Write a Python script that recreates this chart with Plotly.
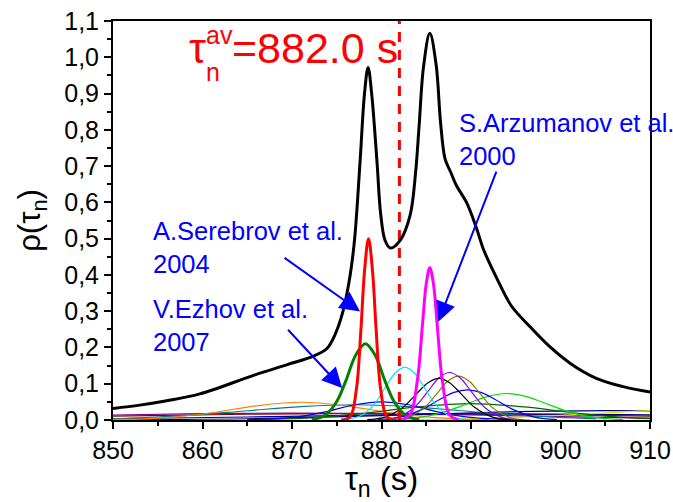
import plotly.graph_objects as go

FONT = "Liberation Sans, Arial, sans-serif"

# ---- data ----
black_x = [850, 853, 856, 859.7, 865.7, 869.4, 872.4, 873.9, 874.8, 875.7, 876.5, 877.0, 877.6, 878.1, 878.5,
           878.9, 879.5, 879.9, 880.4, 881.0, 882.1, 883.2, 883.8, 884.2, 884.7, 885.4, 886.1, 886.6, 887.1,
           887.7, 888.4, 889.5, 890.6, 891.4, 892.9, 894.5, 896.6, 898.8, 901.1, 904.0, 907.0, 910]
black_y = [0.032, 0.041, 0.053, 0.072, 0.123, 0.152, 0.176, 0.197, 0.235, 0.30, 0.40, 0.50, 0.71, 0.90, 0.972,
           0.90, 0.71, 0.57, 0.495, 0.474, 0.496, 0.565, 0.68, 0.81, 0.975, 1.066, 0.98, 0.82, 0.72,
           0.685, 0.645, 0.60, 0.53, 0.47, 0.39, 0.315, 0.257, 0.202, 0.156, 0.115, 0.092, 0.077]

red_x = [875.5, 876.5, 877.2, 877.7, 878.1, 878.55, 879.0, 879.4, 879.9, 880.6, 881.6]
red_y = [0.0, 0.009, 0.086, 0.249, 0.41, 0.5, 0.41, 0.249, 0.086, 0.009, 0.0]

magenta_x = [882.2, 883.2, 884.0, 884.6, 885.0, 885.4, 885.8, 886.2, 886.8, 887.6, 888.6]
magenta_y = [0.0, 0.015, 0.108, 0.27, 0.376, 0.42, 0.376, 0.27, 0.108, 0.015, 0.0]

green_x = [872.2, 873.7, 875.0, 876.0, 877.1, 878.2, 879.3, 880.4, 881.4, 882.7, 884.2]
green_y = [0.001, 0.013, 0.051, 0.107, 0.178, 0.21, 0.178, 0.107, 0.051, 0.013, 0.001]

cyan_x = [875.6, 877.6, 879.1, 880.4, 881.5, 882.6, 883.7, 884.8, 886.1, 887.6, 889.6]
cyan_y = [0.001, 0.011, 0.041, 0.089, 0.129, 0.146, 0.129, 0.089, 0.041, 0.011, 0.001]

blackthin_x = [878.4, 880.4, 882.4, 883.9, 885.2, 886.4, 887.6, 888.9, 890.4, 892.4, 894.4]
blackthin_y = [0.001, 0.008, 0.035, 0.072, 0.103, 0.115, 0.103, 0.072, 0.035, 0.008, 0.001]

violet_x = [879.6, 881.6, 883.6, 885.1, 886.4, 887.6, 888.8, 890.1, 891.6, 893.6, 895.6]
violet_y = [0.0, 0.006, 0.033, 0.076, 0.116, 0.131, 0.116, 0.076, 0.033, 0.006, 0.0]

olive_x = [880.6, 882.6, 884.6, 886.1, 887.4, 888.6, 889.8, 891.1, 892.6, 894.6, 896.6]
olive_y = [0.0, 0.005, 0.030, 0.070, 0.107, 0.121, 0.107, 0.070, 0.030, 0.005, 0.0]

blue_x = [879.6, 882.1, 884.6, 886.6, 888.1, 889.6, 891.1, 892.6, 894.6, 897.1, 899.6]
blue_y = [0.001, 0.008, 0.030, 0.058, 0.076, 0.083, 0.076, 0.058, 0.030, 0.008, 0.001]

blue2_x = [865, 870, 874, 877, 880, 883, 886, 890, 895]
blue2_y = [0.001, 0.007, 0.024, 0.042, 0.05, 0.042, 0.024, 0.007, 0.001]

lime_x = [881, 884.5, 887.5, 890, 892, 894, 896, 898, 900.5, 903.5, 907]
lime_y = [0.001, 0.008, 0.026, 0.049, 0.066, 0.073, 0.066, 0.049, 0.026, 0.008, 0.001]

darkgreen_x = [865, 872, 878, 884, 890, 896, 902, 908, 910]
darkgreen_y = [0.001, 0.006, 0.0185, 0.036, 0.045, 0.036, 0.0185, 0.006, 0.004]

navy_x = [850, 865, 880, 893, 905, 910]
navy_y = [0.0006, 0.0035, 0.012, 0.0217, 0.026, 0.025]

yellow_x = [880, 890, 897, 902, 906, 910]
yellow_y = [0.0004, 0.0032, 0.0091, 0.0156, 0.0211, 0.0257]

orange_x = [850, 856, 861, 866, 871, 876, 881, 886, 892]
orange_y = [0.001, 0.0066, 0.020, 0.039, 0.049, 0.039, 0.020, 0.0066, 0.001]

teal_x = [850, 858, 865, 871, 877, 883, 889, 896, 904]
teal_y = [0.0033, 0.012, 0.0255, 0.037, 0.042, 0.037, 0.0255, 0.012, 0.0033]

purple_x = [850, 860, 870, 880, 890, 900, 910]
purple_y = [0.0138, 0.0175, 0.019, 0.0175, 0.0138, 0.0092, 0.0053]

maroon_x = [850, 865, 880, 895, 910]
maroon_y = [0.0109, 0.0159, 0.018, 0.0159, 0.0109]

darkblue_x = [850, 865, 880, 895, 910]
darkblue_y = [0.0034, 0.0083, 0.0142, 0.017, 0.0142]

tau_av = 882.0
y_top = 1.1

x_ticks = [850, 860, 870, 880, 890, 900, 910]
y_ticks = [0.0, 0.1, 0.2, 0.3, 0.4, 0.5, 0.6, 0.7, 0.8, 0.9, 1.0, 1.1]

fig = go.Figure()

thin = [
    (maroon_x, maroon_y, "#800000"),
    (darkblue_x, darkblue_y, "#000080"),
    (purple_x, purple_y, "#800080"),
    (navy_x, navy_y, "#000080"),
    (yellow_x, yellow_y, "#e6e600"),
    (teal_x, teal_y, "#008080"),
    (orange_x, orange_y, "#ff8000"),
    (darkgreen_x, darkgreen_y, "#006400"),
    (lime_x, lime_y, "#00e000"),
    (blue2_x, blue2_y, "#0000ff"),
    (blue_x, blue_y, "#0000ff"),
    (olive_x, olive_y, "#808000"),
    (violet_x, violet_y, "#8000ff"),
    (blackthin_x, blackthin_y, "#000000"),
    (cyan_x, cyan_y, "#00e5ff"),
]
for xs, ys, c in thin:
    fig.add_trace(go.Scatter(x=xs, y=ys, mode="lines", line=dict(color=c, width=1.2, shape="spline"),
                             hoverinfo="skip"))

fig.add_trace(go.Scatter(x=[tau_av, tau_av], y=[0, y_top], mode="lines",
                         line=dict(color="#ff0000", width=3, dash="10px,8px")))

for xs, ys, c in [(green_x, green_y, "#008000"), (red_x, red_y, "#ff0000"), (magenta_x, magenta_y, "#ff00ff")]:
    fig.add_trace(go.Scatter(x=xs, y=ys, mode="lines", line=dict(color=c, width=3, shape="spline")))

fig.add_trace(go.Scatter(x=black_x, y=black_y, mode="lines", line=dict(color="black", width=3, shape="spline")))

axis_common = dict(showgrid=False, zeroline=False, showline=True, linecolor="black", linewidth=2,
                   mirror=True, ticks="outside", ticklen=7, tickwidth=2, tickcolor="black", automargin=False,
                   tickfont=dict(size=25, family=FONT, color="black"))

fig.update_xaxes(range=[850, 910], tickvals=x_ticks, ticktext=[str(v) for v in x_ticks],
                 minor=dict(dtick=5, tick0=850, ticks="outside", ticklen=4, tickwidth=1.5, tickcolor="black"),
                 title=dict(text="τ<sub>n</sub> (s)", font=dict(size=33, family=FONT), standoff=9),
                 **axis_common)
fig.update_yaxes(range=[0, y_top], tickvals=y_ticks, ticktext=[f"{v:.1f}".replace(".", ",") for v in y_ticks],
                 minor=dict(dtick=0.05, tick0=0, ticks="outside", ticklen=4, tickwidth=1.5, tickcolor="black"),
                 title=dict(text="ρ(τ<sub>n</sub>)", font=dict(size=31, family=FONT), standoff=14),
                 **axis_common)

ann = []
RED = "#ff0000"
BLUE = "#0000ff"
# tau_n^av = 882.0 s
ann.append(dict(text="τ", xref="paper", yref="paper", x=(208 - 113) / 537, y=(420 - 48) / 399,
                xanchor="right", yanchor="middle", showarrow=False, font=dict(size=43, color=RED, family=FONT)))
ann.append(dict(text="av", xref="paper", yref="paper", x=(204 - 113) / 537, y=(420 - 35) / 399,
                xanchor="left", yanchor="middle", showarrow=False, font=dict(size=25, color=RED, family=FONT)))
ann.append(dict(text="n", xref="paper", yref="paper", x=(204 - 113) / 537, y=(420 - 72) / 399,
                xanchor="left", yanchor="middle", showarrow=False, font=dict(size=25, color=RED, family=FONT)))
ann.append(dict(text="=882.0 s", xref="paper", yref="paper", x=(230 - 113) / 537, y=(420 - 48) / 399,
                xanchor="left", yanchor="middle", showarrow=False, font=dict(size=43, color=RED, family=FONT)))

# labels
ann.append(dict(text="A.Serebrov et al.<br>2004", xref="x", yref="y", x=854.2, y=0.565,
                xanchor="left", yanchor="top", align="left", showarrow=False,
                font=dict(size=25.5, color=BLUE, family=FONT)))
ann.append(dict(text="V.Ezhov et al.<br>2007", xref="x", yref="y", x=854.2, y=0.35,
                xanchor="left", yanchor="top", align="left", showarrow=False,
                font=dict(size=25.5, color=BLUE, family=FONT)))
ann.append(dict(text="S.Arzumanov et al.<br>2000", xref="x", yref="y", x=888.4, y=0.862,
                xanchor="left", yanchor="top", align="left", showarrow=False,
                font=dict(size=25.5, color=BLUE, family=FONT)))

# arrows
for tip, tail in [((877.6, 0.299), (869.0, 0.450)),
                  ((875.6, 0.088), (869.4, 0.253)),
                  ((886.35, 0.271), (892.9, 0.689))]:
    ann.append(dict(text="", x=tip[0], y=tip[1], ax=tail[0], ay=tail[1], xref="x", yref="y",
                    axref="x", ayref="y", showarrow=True, arrowhead=2, arrowsize=2.0, arrowwidth=2,
                    arrowcolor=BLUE))

fig.update_layout(width=673, height=502, margin=dict(l=113, r=23, t=21, b=82),
                  plot_bgcolor="white", paper_bgcolor="white", showlegend=False,
                  font=dict(family=FONT, color="black"), annotations=ann)

fig.write_html("out.html")
